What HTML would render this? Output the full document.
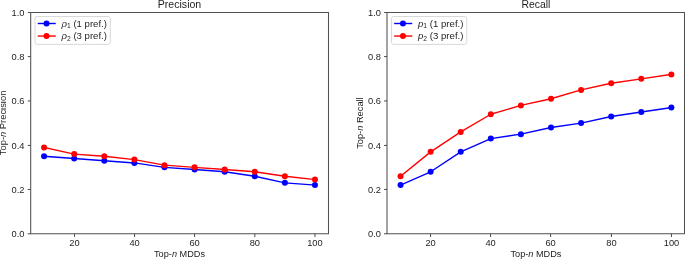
<!DOCTYPE html>
<html><head><meta charset="utf-8"><style>
html,body{margin:0;padding:0;background:#fff;width:685px;height:259px;overflow:hidden}
svg{display:block;will-change:transform}
text{font-family:"Liberation Sans",sans-serif;fill:#1e1e1e}
.t{font-size:9.3px}
.l{font-size:9.6px}
.g{font-size:9.25px}
.title{font-size:11.1px}
</style></head><body>
<svg width="685" height="259" viewBox="0 0 685 259">
<polyline points="44.09,156.30 74.19,158.51 104.29,160.72 134.38,162.93 164.48,167.36 194.57,169.57 224.67,171.79 254.76,176.21 284.86,182.85 314.96,185.06" fill="none" stroke="#0000ff" stroke-width="1.4" stroke-linejoin="round" stroke-linecap="square"/>
<circle cx="44.09" cy="156.30" r="3.0" fill="#0000ff"/>
<circle cx="74.19" cy="158.51" r="3.0" fill="#0000ff"/>
<circle cx="104.29" cy="160.72" r="3.0" fill="#0000ff"/>
<circle cx="134.38" cy="162.93" r="3.0" fill="#0000ff"/>
<circle cx="164.48" cy="167.36" r="3.0" fill="#0000ff"/>
<circle cx="194.57" cy="169.57" r="3.0" fill="#0000ff"/>
<circle cx="224.67" cy="171.79" r="3.0" fill="#0000ff"/>
<circle cx="254.76" cy="176.21" r="3.0" fill="#0000ff"/>
<circle cx="284.86" cy="182.85" r="3.0" fill="#0000ff"/>
<circle cx="314.96" cy="185.06" r="3.0" fill="#0000ff"/>
<polyline points="44.09,147.44 74.19,154.08 104.29,156.30 134.38,159.61 164.48,165.15 194.57,167.36 224.67,169.57 254.76,171.79 284.86,176.21 314.96,179.53" fill="none" stroke="#ff0000" stroke-width="1.4" stroke-linejoin="round" stroke-linecap="square"/>
<circle cx="44.09" cy="147.44" r="3.0" fill="#ff0000"/>
<circle cx="74.19" cy="154.08" r="3.0" fill="#ff0000"/>
<circle cx="104.29" cy="156.30" r="3.0" fill="#ff0000"/>
<circle cx="134.38" cy="159.61" r="3.0" fill="#ff0000"/>
<circle cx="164.48" cy="165.15" r="3.0" fill="#ff0000"/>
<circle cx="194.57" cy="167.36" r="3.0" fill="#ff0000"/>
<circle cx="224.67" cy="169.57" r="3.0" fill="#ff0000"/>
<circle cx="254.76" cy="171.79" r="3.0" fill="#ff0000"/>
<circle cx="284.86" cy="176.21" r="3.0" fill="#ff0000"/>
<circle cx="314.96" cy="179.53" r="3.0" fill="#ff0000"/>
<path d="M30.18 12.45H329.02M30.18 233.75H329.02M30.7 12.45V233.75M328.5 12.45V233.75" fill="none" stroke="#505050" stroke-width="1.05"/>
<line x1="27.75" y1="233.75" x2="30.7" y2="233.75" stroke="#505050" stroke-width="1.05"/>
<text x="24.55" y="237.05" text-anchor="end" class="t">0.0</text>
<line x1="27.75" y1="189.47" x2="30.7" y2="189.47" stroke="#505050" stroke-width="1.05"/>
<text x="24.55" y="192.79" text-anchor="end" class="t">0.2</text>
<line x1="27.75" y1="145.45" x2="30.7" y2="145.45" stroke="#505050" stroke-width="1.05"/>
<text x="24.55" y="148.53" text-anchor="end" class="t">0.4</text>
<line x1="27.75" y1="100.95" x2="30.7" y2="100.95" stroke="#505050" stroke-width="1.05"/>
<text x="24.55" y="104.27" text-anchor="end" class="t">0.6</text>
<line x1="27.75" y1="56.58" x2="30.7" y2="56.58" stroke="#505050" stroke-width="1.05"/>
<text x="24.55" y="60.01" text-anchor="end" class="t">0.8</text>
<line x1="27.75" y1="12.50" x2="30.7" y2="12.50" stroke="#505050" stroke-width="1.05"/>
<text x="24.55" y="15.75" text-anchor="end" class="t">1.0</text>
<line x1="74.50" y1="233.75" x2="74.50" y2="236.95" stroke="#505050" stroke-width="1.05"/>
<text x="74.50" y="246.0" text-anchor="middle" class="t">20</text>
<line x1="134.55" y1="233.75" x2="134.55" y2="236.95" stroke="#505050" stroke-width="1.05"/>
<text x="134.55" y="246.0" text-anchor="middle" class="t">40</text>
<line x1="194.55" y1="233.75" x2="194.55" y2="236.95" stroke="#505050" stroke-width="1.05"/>
<text x="194.55" y="246.0" text-anchor="middle" class="t">60</text>
<line x1="254.80" y1="233.75" x2="254.80" y2="236.95" stroke="#505050" stroke-width="1.05"/>
<text x="254.80" y="246.0" text-anchor="middle" class="t">80</text>
<line x1="314.95" y1="233.75" x2="314.95" y2="236.95" stroke="#505050" stroke-width="1.05"/>
<text x="314.95" y="246.0" text-anchor="middle" class="t">100</text>
<text x="179.53" y="7.65" text-anchor="middle" class="title" textLength="43.5" lengthAdjust="spacingAndGlyphs">Precision</text>
<text x="179.53" y="256.9" text-anchor="middle" class="l" textLength="51" lengthAdjust="spacingAndGlyphs">Top-<tspan font-style="italic">n</tspan> MDDs</text>
<rect x="35.00" y="16.5" width="75.3" height="27.9" rx="2.2" fill="#fff" fill-opacity="0.8" stroke="#d4d4d4" stroke-width="0.9"/>
<line x1="37.70" y1="23.5" x2="55.80" y2="23.5" stroke="#0000ff" stroke-width="1.4"/>
<circle cx="46.50" cy="23.5" r="3.0" fill="#0000ff"/>
<text x="61.50" y="26.65" class="g" textLength="45.5" lengthAdjust="spacingAndGlyphs"><tspan font-style="italic">ρ</tspan><tspan font-size="6.47" dy="1.3">1</tspan><tspan dy="-1.3"> (1 pref.)</tspan></text>
<line x1="37.70" y1="36.05" x2="55.80" y2="36.05" stroke="#ff0000" stroke-width="1.4"/>
<circle cx="46.50" cy="36.05" r="3.0" fill="#ff0000"/>
<text x="61.50" y="39.20" class="g" textLength="45.5" lengthAdjust="spacingAndGlyphs"><tspan font-style="italic">ρ</tspan><tspan font-size="6.47" dy="1.3">2</tspan><tspan dy="-1.3"> (3 pref.)</tspan></text>
<polyline points="400.54,185.06 430.63,171.79 460.72,151.87 490.81,138.59 520.90,134.16 551.00,127.53 581.09,123.10 611.18,116.46 641.27,112.03 671.36,107.61" fill="none" stroke="#0000ff" stroke-width="1.4" stroke-linejoin="round" stroke-linecap="square"/>
<circle cx="400.54" cy="185.06" r="3.0" fill="#0000ff"/>
<circle cx="430.63" cy="171.79" r="3.0" fill="#0000ff"/>
<circle cx="460.72" cy="151.87" r="3.0" fill="#0000ff"/>
<circle cx="490.81" cy="138.59" r="3.0" fill="#0000ff"/>
<circle cx="520.90" cy="134.16" r="3.0" fill="#0000ff"/>
<circle cx="551.00" cy="127.53" r="3.0" fill="#0000ff"/>
<circle cx="581.09" cy="123.10" r="3.0" fill="#0000ff"/>
<circle cx="611.18" cy="116.46" r="3.0" fill="#0000ff"/>
<circle cx="641.27" cy="112.03" r="3.0" fill="#0000ff"/>
<circle cx="671.36" cy="107.61" r="3.0" fill="#0000ff"/>
<polyline points="400.54,176.21 430.63,151.87 460.72,131.95 490.81,114.25 520.90,105.40 551.00,98.76 581.09,89.91 611.18,83.27 641.27,78.84 671.36,74.41" fill="none" stroke="#ff0000" stroke-width="1.4" stroke-linejoin="round" stroke-linecap="square"/>
<circle cx="400.54" cy="176.21" r="3.0" fill="#ff0000"/>
<circle cx="430.63" cy="151.87" r="3.0" fill="#ff0000"/>
<circle cx="460.72" cy="131.95" r="3.0" fill="#ff0000"/>
<circle cx="490.81" cy="114.25" r="3.0" fill="#ff0000"/>
<circle cx="520.90" cy="105.40" r="3.0" fill="#ff0000"/>
<circle cx="551.00" cy="98.76" r="3.0" fill="#ff0000"/>
<circle cx="581.09" cy="89.91" r="3.0" fill="#ff0000"/>
<circle cx="611.18" cy="83.27" r="3.0" fill="#ff0000"/>
<circle cx="641.27" cy="78.84" r="3.0" fill="#ff0000"/>
<circle cx="671.36" cy="74.41" r="3.0" fill="#ff0000"/>
<path d="M386.48 12.45H685.02M386.48 233.75H685.02M387.0 12.45V233.75M684.5 12.45V233.75" fill="none" stroke="#505050" stroke-width="1.05"/>
<line x1="384.05" y1="233.75" x2="387.0" y2="233.75" stroke="#505050" stroke-width="1.05"/>
<text x="381.00" y="237.05" text-anchor="end" class="t">0.0</text>
<line x1="384.05" y1="189.47" x2="387.0" y2="189.47" stroke="#505050" stroke-width="1.05"/>
<text x="381.00" y="192.79" text-anchor="end" class="t">0.2</text>
<line x1="384.05" y1="145.45" x2="387.0" y2="145.45" stroke="#505050" stroke-width="1.05"/>
<text x="381.00" y="148.53" text-anchor="end" class="t">0.4</text>
<line x1="384.05" y1="100.95" x2="387.0" y2="100.95" stroke="#505050" stroke-width="1.05"/>
<text x="381.00" y="104.27" text-anchor="end" class="t">0.6</text>
<line x1="384.05" y1="56.58" x2="387.0" y2="56.58" stroke="#505050" stroke-width="1.05"/>
<text x="381.00" y="60.01" text-anchor="end" class="t">0.8</text>
<line x1="384.05" y1="12.50" x2="387.0" y2="12.50" stroke="#505050" stroke-width="1.05"/>
<text x="381.00" y="15.75" text-anchor="end" class="t">1.0</text>
<line x1="430.55" y1="233.75" x2="430.55" y2="236.95" stroke="#505050" stroke-width="1.05"/>
<text x="430.55" y="246.0" text-anchor="middle" class="t">20</text>
<line x1="490.55" y1="233.75" x2="490.55" y2="236.95" stroke="#505050" stroke-width="1.05"/>
<text x="490.55" y="246.0" text-anchor="middle" class="t">40</text>
<line x1="550.62" y1="233.75" x2="550.62" y2="236.95" stroke="#505050" stroke-width="1.05"/>
<text x="550.62" y="246.0" text-anchor="middle" class="t">60</text>
<line x1="611.42" y1="233.75" x2="611.42" y2="236.95" stroke="#505050" stroke-width="1.05"/>
<text x="611.42" y="246.0" text-anchor="middle" class="t">80</text>
<line x1="671.48" y1="233.75" x2="671.48" y2="236.95" stroke="#505050" stroke-width="1.05"/>
<text x="671.48" y="246.0" text-anchor="middle" class="t">100</text>
<text x="535.95" y="7.65" text-anchor="middle" class="title" textLength="29.0" lengthAdjust="spacingAndGlyphs">Recall</text>
<text x="535.95" y="256.9" text-anchor="middle" class="l" textLength="51" lengthAdjust="spacingAndGlyphs">Top-<tspan font-style="italic">n</tspan> MDDs</text>
<rect x="391.45" y="16.5" width="75.3" height="27.9" rx="2.2" fill="#fff" fill-opacity="0.8" stroke="#d4d4d4" stroke-width="0.9"/>
<line x1="394.15" y1="23.5" x2="412.25" y2="23.5" stroke="#0000ff" stroke-width="1.4"/>
<circle cx="402.95" cy="23.5" r="3.0" fill="#0000ff"/>
<text x="417.95" y="26.65" class="g" textLength="45.5" lengthAdjust="spacingAndGlyphs"><tspan font-style="italic">p</tspan><tspan font-size="6.47" dy="1.3">1</tspan><tspan dy="-1.3"> (1 pref.)</tspan></text>
<line x1="394.15" y1="36.05" x2="412.25" y2="36.05" stroke="#ff0000" stroke-width="1.4"/>
<circle cx="402.95" cy="36.05" r="3.0" fill="#ff0000"/>
<text x="417.95" y="39.20" class="g" textLength="45.5" lengthAdjust="spacingAndGlyphs"><tspan font-style="italic">p</tspan><tspan font-size="6.47" dy="1.3">2</tspan><tspan dy="-1.3"> (3 pref.)</tspan></text>
<text transform="translate(6.35,122.9) rotate(-90)" text-anchor="middle" class="l" textLength="64.5" lengthAdjust="spacingAndGlyphs">Top-<tspan font-style="italic">n</tspan> Precision</text>
<text transform="translate(362.8,123.1) rotate(-90)" text-anchor="middle" class="l" textLength="51.5" lengthAdjust="spacingAndGlyphs">Top-<tspan font-style="italic">n</tspan> Recall</text>
</svg>
</body></html>
